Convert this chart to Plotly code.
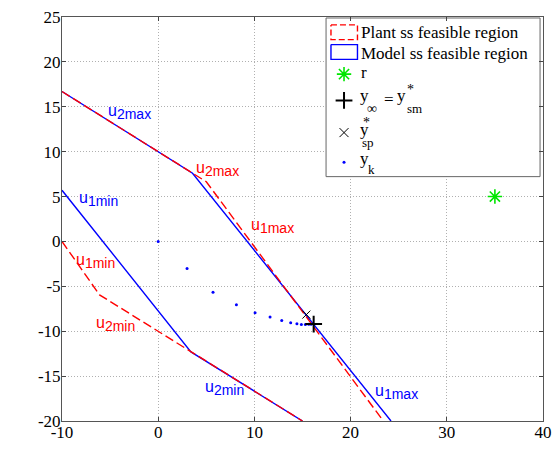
import plotly.graph_objects as go

# ---------------- data ----------------
model_upper_x = [-10, 3.57, 24.2]
model_upper_y = [16.7, 7.6, -20]
model_lower_x = [-10, 3.4, 15.0]
model_lower_y = [5.7, -12.3, -20]

plant_upper_x = [-10, 5.0, 23.4]
plant_upper_y = [16.7, 6.65, -20]
plant_lower_x = [-10, -6.1, 15.0]
plant_lower_y = [0.0, -5.95, -20]

r_x, r_y = [35.0], [5.0]
yinf_x, yinf_y = [16.16], [-9.2]
ysp_x, ysp_y = [15.4], [-8.15]

yk_x = [0, 3.0, 5.7, 8.13, 10.07, 11.63, 12.84, 13.77, 14.42, 14.88, 15.3, 15.65, 15.9]
yk_y = [0, -3.0, -5.66, -7.05, -7.93, -8.41, -8.8, -9.05, -9.17, -9.24, -9.24, -9.23, -9.22]

x_ticks = [-10, 0, 10, 20, 30, 40]
y_ticks = [-20, -15, -10, -5, 0, 5, 10, 15, 20, 25]

constraint_labels = ["2max", "2max", "1max", "1min", "1min", "2min", "2min", "1max"]
constraint_colors = ["blue", "red", "red", "blue", "red", "red", "blue", "blue"]
constraint_lx = [-2.96, 6.12, 11.84, -6.22, -6.53, -4.39, 6.94, 24.8]
constraint_ly = [14.4, 8.08, 1.70, 4.78, -2.14, -9.14, -16.37, -16.76]

legend_texts = ["Plant ss feasible region", "Model ss feasible region", "r"]

RED = "#ff0000"
BLUE = "#0000ff"
GREEN = "#00e600"
SERIF = "Liberation Serif"
SANS = "Liberation Sans"


def serif_tick(v):
    return "<span style='font-family:Liberation Serif'>%d</span>" % v


fig = go.Figure()

# model region (solid blue)
for xs, ys in [(model_upper_x, model_upper_y), (model_lower_x, model_lower_y)]:
    fig.add_trace(go.Scatter(x=xs, y=ys, mode="lines",
                             line=dict(color=BLUE, width=1.4), showlegend=False))
# plant region (dashed red), on top
for xs, ys in [(plant_upper_x, plant_upper_y), (plant_lower_x, plant_lower_y)]:
    fig.add_trace(go.Scatter(x=xs, y=ys, mode="lines",
                             line=dict(color=RED, width=1.4, dash="9px,4px"), showlegend=False))

fig.add_trace(go.Scatter(x=yk_x, y=yk_y, mode="markers",
                         marker=dict(color=BLUE, size=3), showlegend=False))
fig.add_trace(go.Scatter(x=r_x, y=r_y, mode="markers",
                         marker=dict(symbol="asterisk-open", size=12, color=GREEN,
                                     line=dict(color=GREEN, width=1.6)), showlegend=False))
fig.add_trace(go.Scatter(x=ysp_x, y=ysp_y, mode="markers",
                         marker=dict(symbol="x-thin-open", size=8, color="black",
                                     line=dict(color="black", width=1)), showlegend=False))
fig.add_trace(go.Scatter(x=yinf_x, y=yinf_y, mode="markers",
                         marker=dict(symbol="cross-thin-open", size=12, color="black",
                                     line=dict(color="black", width=2)), showlegend=False))

# ---------------- legend (drawn on a pixel overlay axis) ----------------
fig.add_trace(go.Scatter(x=[331, 549, 549, 331, 331], y=[12, 12, 173, 173, 12],
                         xaxis="x2", yaxis="y2", mode="lines", fill="toself",
                         fillcolor="white", line=dict(color="#666", width=1),
                         showlegend=False, hoverinfo="skip"))
fig.add_trace(go.Scatter(x=[336, 363, 363, 336, 336], y=[19, 19, 34, 34, 19],
                         xaxis="x2", yaxis="y2", mode="lines",
                         line=dict(color=RED, width=1.4, dash="6px,3px"),
                         showlegend=False, hoverinfo="skip"))
fig.add_trace(go.Scatter(x=[336, 363, 363, 336, 336], y=[39, 39, 54, 54, 39],
                         xaxis="x2", yaxis="y2", mode="lines",
                         line=dict(color=BLUE, width=1.4),
                         showlegend=False, hoverinfo="skip"))
fig.add_trace(go.Scatter(x=[349.3], y=[69], xaxis="x2", yaxis="y2", mode="markers",
                         marker=dict(symbol="asterisk-open", size=12, color=GREEN,
                                     line=dict(color=GREEN, width=1.6)),
                         showlegend=False, hoverinfo="skip"))
fig.add_trace(go.Scatter(x=[349.3], y=[95.7], xaxis="x2", yaxis="y2", mode="markers",
                         marker=dict(symbol="cross-thin-open", size=12, color="black",
                                     line=dict(color="black", width=2)),
                         showlegend=False, hoverinfo="skip"))
fig.add_trace(go.Scatter(x=[349.3], y=[128.3], xaxis="x2", yaxis="y2", mode="markers",
                         marker=dict(symbol="x-thin-open", size=9, color="black",
                                     line=dict(color="black", width=1)),
                         showlegend=False, hoverinfo="skip"))
fig.add_trace(go.Scatter(x=[349.3], y=[158.3], xaxis="x2", yaxis="y2", mode="markers",
                         marker=dict(color=BLUE, size=3),
                         showlegend=False, hoverinfo="skip"))

annotations = []


def px_text(text, x, y, size=17, font=SERIF, color="black", xanchor="left", angle=0):
    annotations.append(dict(text=text, x=x, y=y, xref="x2", yref="y2",
                            xanchor=xanchor, yanchor="middle", showarrow=False,
                            textangle=angle,
                            font=dict(family=font, size=size, color=color)))


px_text(legend_texts[0], 365, 27)
px_text(legend_texts[1], 365, 48)
px_text(legend_texts[2], 365, 67)
# y_inf = y*_sm
px_text("y", 364, 91)
px_text("\u221e", 371, 104, size=14)
px_text("=", 388, 95)
px_text("y", 401, 91)
px_text("*", 411, 85, size=14)
px_text("sm", 411, 104, size=13)
# y*_sp
px_text("y", 364, 125)
px_text("*", 367, 118, size=14)
px_text("sp", 366, 138, size=13)
# y_k
px_text("y", 364, 155)
px_text("k", 372, 166, size=13)

# axis titles
px_text("y<sub>1</sub>", 306, 452, size=18, xanchor="center")
px_text("y<sub>2</sub>", 19, 216, size=18, xanchor="center", angle=-90)

# constraint labels in data coordinates
for lab, col, lx, ly in zip(constraint_labels, constraint_colors, constraint_lx, constraint_ly):
    annotations.append(dict(
        text="u<sub><span style='font-size:14px'>" + lab + "</span></sub>",
        x=lx, y=ly, xref="x", yref="y", showarrow=False,
        xanchor="center", yanchor="middle",
        font=dict(family=SANS, size=16, color=col)))

axis_common = dict(showgrid=True, gridcolor="#b0b0b0", griddash="1px,2px", gridwidth=1,
                   showline=True, linecolor="#555", linewidth=1, mirror="ticks",
                   ticks="inside", ticklen=4, tickcolor="#444", zeroline=False,
                   tickfont=dict(family=SERIF, size=17, color="black"))

fig.update_layout(
    width=560, height=466,
    margin=dict(l=62, r=8, t=11, b=45),
    paper_bgcolor="white", plot_bgcolor="white",
    font=dict(family=SERIF, size=17, color="black"),
    xaxis=dict(range=[-10, 40], tickvals=x_ticks, ticktext=[serif_tick(v) for v in x_ticks],
               ticklabelstandoff=-4, **axis_common),
    yaxis=dict(range=[-20, 25], tickvals=y_ticks, ticktext=[serif_tick(v) for v in y_ticks],
               ticklabelstandoff=-3, **axis_common),
    xaxis2=dict(overlaying="x", range=[62, 552], visible=False),
    yaxis2=dict(overlaying="y", range=[421, 11], visible=False),
    annotations=annotations,
    showlegend=False,
)

fig.write_html("out.html")
